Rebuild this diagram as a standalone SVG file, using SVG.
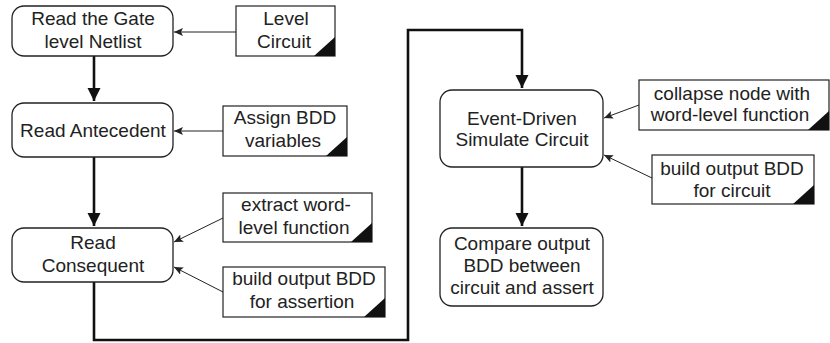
<svg xmlns="http://www.w3.org/2000/svg" width="830" height="343" viewBox="0 0 830 343">
<style>
.node{fill:#fff;stroke:#222;stroke-width:1.3}
.note{fill:#fff;stroke:#222;stroke-width:1.2}
.tri{fill:#111}
text{font-family:"Liberation Sans",Arial,sans-serif;font-size:19px;fill:#222;text-anchor:middle}
.thin{stroke:#222;stroke-width:1;fill:none}
.thick{stroke:#111;stroke-width:2.6;fill:none}
</style>
<defs>
<marker id="ah" markerUnits="userSpaceOnUse" markerWidth="10" markerHeight="8" refX="9" refY="4" orient="auto"><path d="M0,0 L9,4 L0,8 L2,4 Z" fill="#222"/></marker>
<marker id="ahb" markerUnits="userSpaceOnUse" markerWidth="14" markerHeight="14" refX="13" refY="7" orient="auto"><path d="M0,0.5 L13,7 L0,13.5 Z" fill="#111"/></marker>
</defs>
<g id="connectors">
<path class="thick" d="M94,56 V101" marker-end="url(#ahb)"/>
<path class="thick" d="M94,157 V226" marker-end="url(#ahb)"/>
<path class="thick" d="M94,282 V340 H408 V30 H522 V88" marker-end="url(#ahb)"/>
<path class="thick" d="M522,167 V226" marker-end="url(#ahb)"/>
<path class="thin" d="M236,32 L174,32" marker-end="url(#ah)"/>
<path class="thin" d="M223,131 L174,131" marker-end="url(#ah)"/>
<path class="thin" d="M223,218 L174,242" marker-end="url(#ah)"/>
<path class="thin" d="M223,292 L174,267" marker-end="url(#ah)"/>
<path class="thin" d="M639,105 L604,118" marker-end="url(#ah)"/>
<path class="thin" d="M652,178 L604,155" marker-end="url(#ah)"/>
</g>
<g id="n-read-gate">
<rect class="node" x="12" y="6" width="161" height="50" rx="12"/>
<text x="93" y="25">Read the Gate</text>
<text x="93" y="48">level Netlist</text>
</g>
<g id="n-read-antecedent">
<rect class="node" x="12" y="103" width="161" height="54" rx="12"/>
<text x="93" y="137">Read Antecedent</text>
</g>
<g id="n-read-consequent">
<rect class="node" x="12" y="228" width="161" height="54" rx="12"/>
<text x="93" y="249">Read</text>
<text x="93" y="272">Consequent</text>
</g>
<g id="n-event-driven">
<rect class="node" x="440" y="90" width="163" height="77" rx="12"/>
<text x="522" y="125">Event-Driven</text>
<text x="522" y="146">Simulate Circuit</text>
</g>
<g id="n-compare">
<rect class="node" x="440" y="228" width="163" height="78" rx="12"/>
<text x="522" y="250">Compare output</text>
<text x="522" y="272">BDD between</text>
<text x="522" y="294">circuit and assert</text>
</g>
<g id="note-level-circuit">
<rect class="note" x="236" y="6" width="99" height="50"/>
<path class="tri" d="M335,37 L335,56 L314,56 Z"/>
<text x="286" y="25">Level</text>
<text x="284" y="48">Circuit</text>
</g>
<g id="note-assign-bdd">
<rect class="note" x="223" y="106" width="124" height="50"/>
<path class="tri" d="M347,137 L347,156 L326,156 Z"/>
<text x="285" y="124">Assign BDD</text>
<text x="283" y="147">variables</text>
</g>
<g id="note-extract">
<rect class="note" x="223" y="193" width="149" height="49"/>
<path class="tri" d="M372,223 L372,242 L351,242 Z"/>
<text x="296" y="211">extract word-</text>
<text x="294" y="234">level function</text>
</g>
<g id="note-build-assertion">
<rect class="note" x="223" y="267" width="162" height="50"/>
<path class="tri" d="M385,298 L385,317 L364,317 Z"/>
<text x="304" y="285">build output BDD</text>
<text x="302" y="308">for assertion</text>
</g>
<g id="note-collapse">
<rect class="note" x="639" y="80" width="190" height="50"/>
<path class="tri" d="M829,111 L829,130 L808,130 Z"/>
<text x="732" y="100">collapse node with</text>
<text x="730" y="121">word-level function</text>
</g>
<g id="note-build-circuit">
<rect class="note" x="652" y="155" width="162" height="49"/>
<path class="tri" d="M814,185 L814,204 L793,204 Z"/>
<text x="732" y="175">build output BDD</text>
<text x="732" y="197">for circuit</text>
</g>
</svg>
